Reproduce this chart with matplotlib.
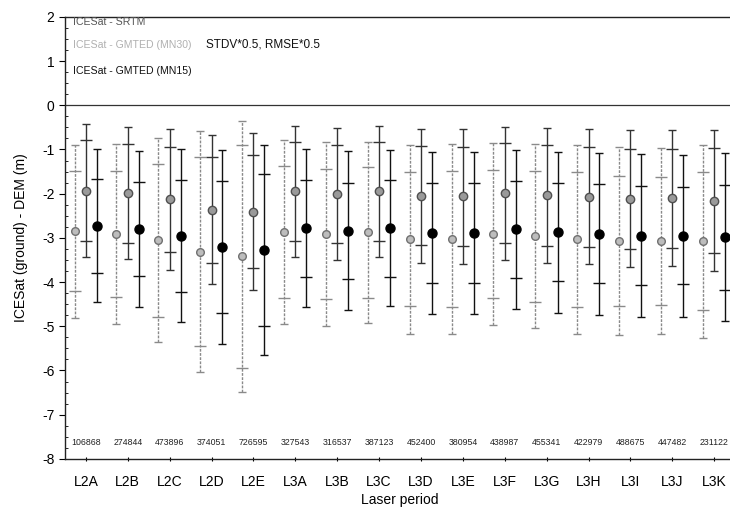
import matplotlib
matplotlib.use("Agg")
import matplotlib.pyplot as plt
import numpy as np

plt.rcParams["font.family"] = ["Liberation Sans", "DejaVu Sans"]

periods = ["L2A", "L2B", "L2C", "L2D", "L2E", "L3A", "L3B", "L3C",
           "L3D", "L3E", "L3F", "L3G", "L3H", "L3I", "L3J", "L3K"]
counts = [106868, 274844, 473896, 374051, 726595, 327543, 316537, 387123,
          452400, 380954, 438987, 455341, 422979, 488675, 447482, 231122]

# mean, STDV*0.5, RMSE*0.5 (m)
srtm_mean = [-2.85, -2.91, -3.05, -3.31, -3.42, -2.87, -2.92, -2.87,
             -3.03, -3.02, -2.91, -2.96, -3.03, -3.07, -3.07, -3.08]
srtm_std = [1.36, 1.43, 1.73, 2.14, 2.52, 1.50, 1.47, 1.48,
            1.51, 1.54, 1.44, 1.48, 1.53, 1.47, 1.44, 1.56]
srtm_rmse = [1.96, 2.03, 2.30, 2.72, 3.06, 2.08, 2.08, 2.05,
             2.14, 2.15, 2.05, 2.09, 2.14, 2.13, 2.11, 2.19]

mn30_mean = [-1.93, -1.99, -2.13, -2.36, -2.41, -1.95, -2.01, -1.95,
             -2.05, -2.06, -1.99, -2.04, -2.07, -2.12, -2.10, -2.16]
mn30_std = [1.15, 1.12, 1.18, 1.20, 1.28, 1.11, 1.10, 1.11,
            1.12, 1.12, 1.13, 1.14, 1.13, 1.13, 1.12, 1.19]
mn30_rmse = [1.50, 1.49, 1.59, 1.69, 1.78, 1.48, 1.49, 1.48,
             1.52, 1.52, 1.50, 1.53, 1.53, 1.55, 1.53, 1.60]

mn15_mean = [-2.73, -2.80, -2.95, -3.21, -3.27, -2.78, -2.84, -2.78,
             -2.89, -2.89, -2.81, -2.87, -2.91, -2.95, -2.95, -2.99]
mn15_std = [1.06, 1.06, 1.27, 1.49, 1.72, 1.10, 1.09, 1.10,
            1.13, 1.13, 1.09, 1.11, 1.12, 1.12, 1.10, 1.19]
mn15_rmse = [1.73, 1.76, 1.95, 2.19, 2.38, 1.78, 1.80, 1.77,
             1.84, 1.84, 1.79, 1.82, 1.84, 1.85, 1.83, 1.90]

series = [
    (srtm_mean, srtm_std, srtm_rmse, -0.27,
     dict(line="#8a8a8a", ls=(0, (2, 1)), face="#bdbdbd", edge="#707070", ms=5.5)),
    (mn30_mean, mn30_std, mn30_rmse, 0.0,
     dict(line="#333333", ls="-", face="#9a9a9a", edge="#505050", ms=6)),
    (mn15_mean, mn15_std, mn15_rmse, 0.26,
     dict(line="#111111", ls="-", face="#000000", edge="#000000", ms=6.5)),
]

fig = plt.figure(figsize=(7.3, 5.11), dpi=100)
ax = fig.add_axes([0.089, 0.102, 0.918, 0.865])

x = np.arange(len(periods))
ax.axhline(0, color="#333333", lw=0.9, zorder=1)

for mean, std, rmse, off, st in series:
    mean = np.array(mean)
    xs = x + off
    eb = ax.errorbar(xs, mean, yerr=rmse, fmt="none", ecolor=st["line"],
                     elinewidth=1.0, capsize=3.2, capthick=1.0, zorder=2)
    eb[2][0].set_linestyle(st["ls"])
    ax.plot(xs, mean + np.array(std), ls="none", marker="_", ms=8,
            mew=1.0, color=st["line"], zorder=3)
    ax.plot(xs, mean - np.array(std), ls="none", marker="_", ms=8,
            mew=1.0, color=st["line"], zorder=3)
    ax.plot(xs, mean, ls="none", marker="o", ms=st["ms"],
            mfc=st["face"], mec=st["edge"], mew=1.0, zorder=4)

for xi, n in zip(x, counts):
    ax.text(xi, -7.62, str(n), ha="center", va="center", fontsize=6.3,
            color="#222222")

ax.text(0.012, 0.988, "ICESat - SRTM", transform=ax.transAxes, fontsize=7.6,
        color="#555555", va="center")
ax.text(0.012, 0.937, "ICESat - GMTED (MN30)", transform=ax.transAxes,
        fontsize=7.6, color="#b0b0b0", va="center")
ax.text(0.21, 0.937, "STDV*0.5, RMSE*0.5", transform=ax.transAxes,
        fontsize=8.5, color="#111111", va="center")
ax.text(0.012, 0.878, "ICESat - GMTED (MN15)", transform=ax.transAxes,
        fontsize=7.6, color="#111111", va="center")

ax.set_xlim(-0.5, 15.5)
ax.set_ylim(-8, 2)
ax.set_xticks(x)
ax.set_xticklabels(periods, fontsize=10)
ax.set_yticks(np.arange(-8, 3, 1))
ax.set_yticklabels([str(v) for v in range(-8, 3)], fontsize=10)
ax.set_yticks(np.arange(-8, 2.01, 0.25), minor=True)
ax.tick_params(axis="y", which="major", length=4, direction="out")
ax.tick_params(axis="y", which="minor", length=2, direction="in")
ax.tick_params(axis="x", length=3, direction="inout", pad=10)
ax.set_xlabel("Laser period", fontsize=10, labelpad=3)
ax.set_ylabel("ICESat (ground) - DEM (m)", fontsize=10, labelpad=10)

ax.spines["right"].set_visible(False)
for s in ("left", "bottom", "top"):
    ax.spines[s].set_linewidth(1.0)
    ax.spines[s].set_color("#222222")

fig.savefig("out.png", dpi=100)
